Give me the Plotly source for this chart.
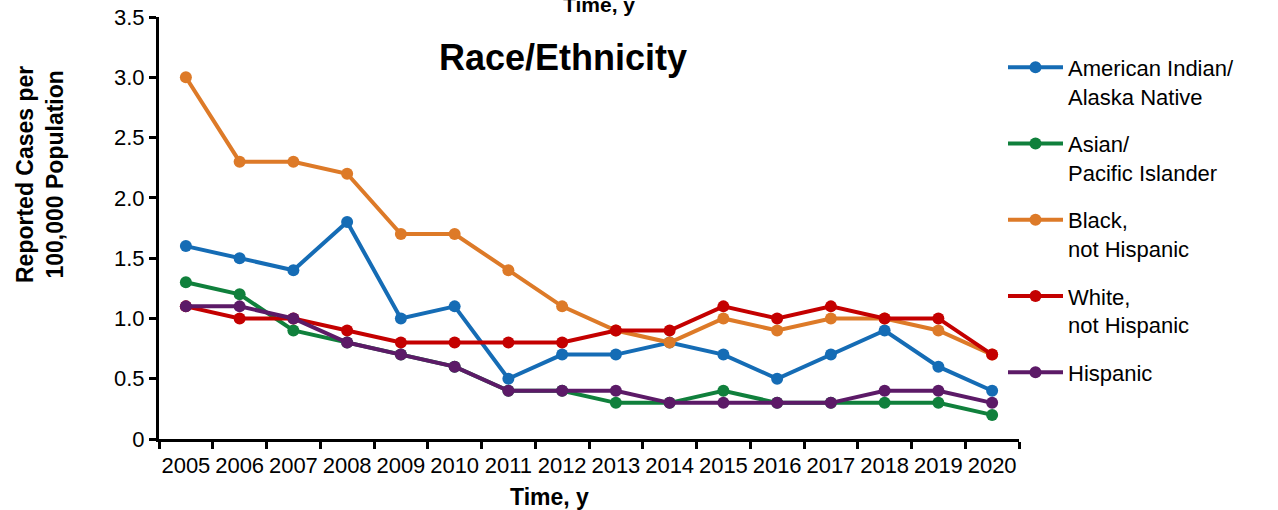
import plotly.graph_objects as go

years = [str(y) for y in range(2005, 2021)]
aian = [1.6, 1.5, 1.4, 1.8, 1.0, 1.1, 0.5, 0.7, 0.7, 0.8, 0.7, 0.5, 0.7, 0.9, 0.6, 0.4]
api = [1.3, 1.2, 0.9, 0.8, 0.7, 0.6, 0.4, 0.4, 0.3, 0.3, 0.4, 0.3, 0.3, 0.3, 0.3, 0.2]
black = [3.0, 2.3, 2.3, 2.2, 1.7, 1.7, 1.4, 1.1, 0.9, 0.8, 1.0, 0.9, 1.0, 1.0, 0.9, 0.7]
white = [1.1, 1.0, 1.0, 0.9, 0.8, 0.8, 0.8, 0.8, 0.9, 0.9, 1.1, 1.0, 1.1, 1.0, 1.0, 0.7]
hispanic = [1.1, 1.1, 1.0, 0.8, 0.7, 0.6, 0.4, 0.4, 0.4, 0.3, 0.3, 0.3, 0.3, 0.4, 0.4, 0.3]

names = ["American Indian/<br>Alaska Native", "Asian/<br>Pacific Islander",
         "Black,<br>not Hispanic", "White,<br>not Hispanic", "Hispanic"]
colors = ["#156cb5", "#10803c", "#dd7a28", "#c40000", "#5c1a67"]
series = [aian, api, black, white, hispanic]

ytickvals = [0, 0.5, 1.0, 1.5, 2.0, 2.5, 3.0, 3.5]
yticktext = ["0", "0.5", "1.0", "1.5", "2.0", "2.5", "3.0", "3.5"]

fig = go.Figure()
for i, (nm, col, vals) in enumerate(zip(names, colors, series)):
    fig.add_trace(go.Scatter(
        x=years, y=vals, name=nm, mode="lines+markers",
        line=dict(color=col, width=4),
        marker=dict(color=col, size=12),
        legendgroup=str(i),
    ))

font = "Liberation Sans, Arial, sans-serif"
fig.update_layout(
    width=1278, height=510,
    margin=dict(l=159, r=259, t=17, b=71, autoexpand=False),
    paper_bgcolor="white", plot_bgcolor="white",
    font=dict(family=font, color="black"),
    showlegend=True,
    legend=dict(x=(1003 - 159) / 860, xanchor="left", y=0.930, yanchor="top",
                font=dict(size=22, family=font), valign="top",
                tracegroupgap=16, itemwidth=55),
    xaxis=dict(type="category", range=[-0.5, 15.5], showgrid=False,
               showline=True, linecolor="black", linewidth=3,
               ticks="outside", ticklen=7, tickwidth=3, tickcolor="black",
               tickson="boundaries", tickangle=0, automargin=False,
               ticklabelstandoff=5,
               tickfont=dict(size=22, family=font)),
    yaxis=dict(range=[0, 3.5], showgrid=False, zeroline=False,
               showline=True, linecolor="black", linewidth=3,
               ticks="outside", ticklen=7, tickwidth=3, tickcolor="black",
               tickvals=ytickvals, ticktext=yticktext, automargin=False,
               tickfont=dict(size=22, family=font)),
    annotations=[
        dict(text="<b>Race/Ethnicity</b>", xref="paper", yref="paper",
             x=0.47, y=0.903, xanchor="center", yanchor="middle",
             showarrow=False, font=dict(size=36, family=font)),
        dict(text="<b>Time, y</b>", xref="paper", yref="paper",
             x=(549 - 159) / 860, y=(439 - 497) / 422, xanchor="center", yanchor="middle",
             showarrow=False, font=dict(size=23, family=font)),
        dict(text="<b>Time, y</b>", xref="paper", yref="paper",
             x=(599 - 159) / 860, y=(439 - 4) / 422, xanchor="center", yanchor="middle",
             showarrow=False, font=dict(size=21, family=font)),
        dict(text="<b>Reported Cases per<br>100,000 Population</b>", xref="paper", yref="paper",
             x=(40 - 159) / 860, y=(439 - 175) / 422, xanchor="center", yanchor="middle",
             textangle=-90, showarrow=False, font=dict(size=23, family=font)),
    ],
)

fig.write_html("out.html")
